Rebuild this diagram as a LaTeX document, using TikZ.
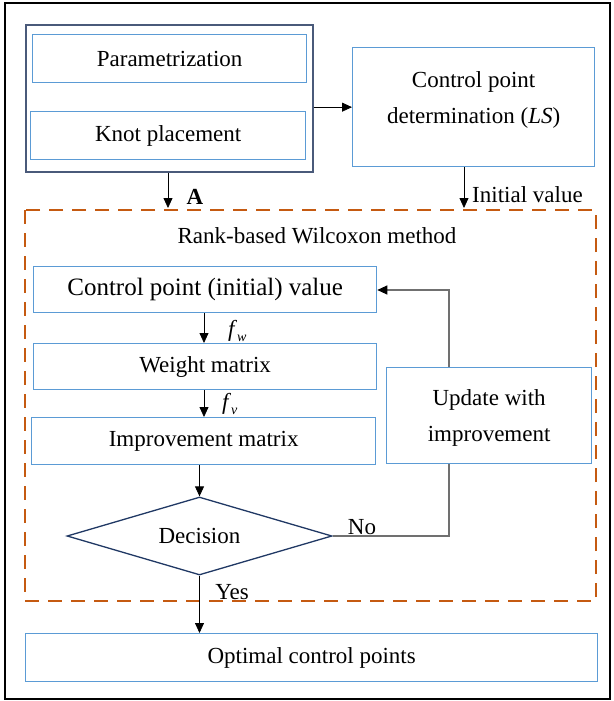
\documentclass[tikz,border=0pt]{standalone}
\usepackage{fontspec}
\setmainfont{Liberation Serif}
\usetikzlibrary{shapes.geometric,arrows.meta,positioning}
\definecolor{boxblue}{HTML}{5B9BD5}
\definecolor{grpblue}{HTML}{4A5A7A}
\definecolor{dashor}{HTML}{C55A11}
\definecolor{navy}{HTML}{203864}
\definecolor{linegray}{HTML}{707070}
\tikzset{
  bbox/.style={draw=boxblue, line width=1.3pt, fill=white, inner sep=0pt, anchor=north west},
  txt/.style={font=\fontsize{23}{36}\selectfont, inner sep=0pt},
  arr/.style={-{Triangle[length=10pt,width=9pt]}, line width=0.8pt, black},
  garr/.style={-{Triangle[length=10pt,width=9pt,color=black]}, line width=1.1pt, linegray},
  gline/.style={line width=1.1pt, linegray},
}
\begin{document}
\begin{tikzpicture}[x=1pt,y=-1pt]
\useasboundingbox (0,0) rectangle (613,701);
% outer frame
\draw[line width=2pt, black] (5,3) rectangle (610,699);
% group box
\node[draw=grpblue, line width=1.6pt, minimum width=287pt, minimum height=147pt, inner sep=0pt, anchor=north west] (grp) at (25,24) {};
\node[bbox, minimum width=274pt, minimum height=48pt] (par) at (32,34) {};
\node[txt] at (par.center) {Parametrization};
\node[bbox, minimum width=275pt, minimum height=48pt] (knot) at (30,111) {};
\node[txt] at (knot.center) {Knot placement};
% control point determination
\node[bbox, minimum width=242pt, minimum height=119pt] (cpd) at (352,47) {};
\node[txt, align=center, yshift=7pt] at (cpd.center) {Control point\\determination (\textit{LS})};
% dashed box
\draw[dashor, line width=2.6pt, dash pattern=on 14pt off 9pt] (25,210) rectangle (596,601);
\node[txt] (rank) at (317,236) {Rank-based Wilcoxon method};
% inner boxes
\node[bbox, minimum width=343pt, minimum height=46pt] (cpv) at (33,266) {};
\node[txt, font=\fontsize{25}{30}\selectfont] at (cpv.center) {Control point (initial) value};
\node[bbox, minimum width=343pt, minimum height=46pt] (wm) at (33,343) {};
\node[txt] at (wm.center) {Weight matrix};
\node[bbox, minimum width=344pt, minimum height=47pt] (im) at (31,417) {};
\node[txt] at (im.center) {Improvement matrix};
\node[bbox, minimum width=205pt, minimum height=96pt] (upd) at (386,367) {};
\node[txt, align=center, yshift=-2pt] at (upd.center) {Update with\\improvement};
\node[draw=navy, line width=1.3pt, diamond, aspect=3.4, minimum width=265pt, minimum height=78pt, inner sep=0pt] (dec) at (199.5,536) {};
\node[txt] at (dec.center) {Decision};
\node[bbox, minimum width=572pt, minimum height=48pt] (opt) at (25,633) {};
\node[txt] at (opt.center) {Optimal control points};
% connectors
\coordinate (a1) at (168,171);
\coordinate (a2) at (168,208);
\draw[arr] (grp.south -| a1) -- (a2);
\node[txt, font=\fontsize{23}{28}\selectfont\bfseries] at (195,197) {A};
\draw[arr] (grp.east |- cpd.west) -- (cpd.west);
\coordinate (b2) at (464,208);
\draw[arr] (cpd.south -| b2) -- (b2);
\node[txt, anchor=west] at (472,195) {Initial value};
\draw[arr] (cpv.south -| 204,0) -- (wm.north -| 204,0);
\node[txt, anchor=west] at (228,331) {\textit{f}\raisebox{-5pt}{\fontsize{14}{14}\selectfont\textit{w}}};
\draw[arr] (wm.south -| 204,0) -- (im.north -| 204,0);
\node[txt, anchor=west] at (222,404) {\textit{f}\raisebox{-5pt}{\fontsize{14}{14}\selectfont\textit{v}}};
\draw[arr] (im.south -| dec.north) -- (dec.north);
\draw[gline] (dec.east) -- (dec.east -| 449,0) -- (upd.south -| 449,0);
\coordinate (c1) at (449,290);
\draw[garr] (upd.north -| c1) -- (c1) -- (cpv.east |- c1);
\node[txt] at (362,527) {No};
\node[txt] at (232,592) {Yes};
\draw[arr] (dec.south) -- (opt.north -| dec.south);
\end{tikzpicture}
\end{document}
